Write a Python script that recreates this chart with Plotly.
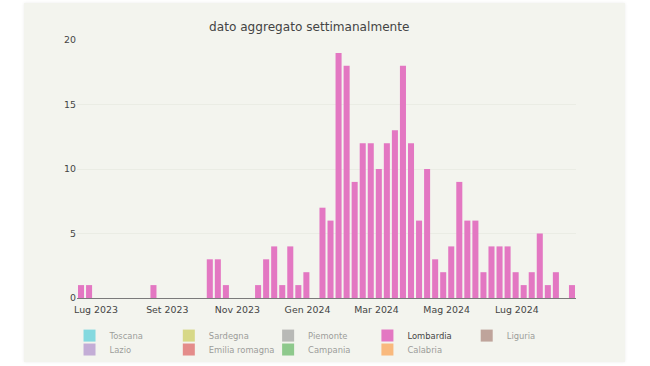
import pandas as pd
import plotly.graph_objects as go

# ---- data ----
start_week = "2023-06-18"
lombardia_counts = [1, 1, 0, 0, 0, 0, 0, 0, 0, 1,
                    0, 0, 0, 0, 0, 0, 3, 3, 1, 0,
                    0, 0, 1, 3, 4, 1, 4, 1, 2, 0,
                    7, 6, 19, 18, 9, 12, 12, 10, 12, 13,
                    18, 12, 6, 10, 3, 2, 4, 9, 6, 6,
                    2, 4, 4, 4, 2, 1, 2, 5, 1, 2,
                    0, 1]
weeks = pd.date_range(start_week, periods=len(lombardia_counts), freq="7D")

regions_row1 = ["Toscana", "Sardegna", "Piemonte", "Lombardia", "Liguria"]
colors_row1 = ["#17becf", "#bcbd22", "#7f7f7f", "#e377c2", "#8c564b"]
regions_row2 = ["Lazio", "Emilia romagna", "Campania", "Calabria"]
colors_row2 = ["#9467bd", "#d62728", "#2ca02c", "#ff7f0e"]

tick_dates = ["2023-07-01", "2023-09-01", "2023-11-01", "2024-01-01",
              "2024-03-01", "2024-05-01", "2024-07-01"]
tick_labels = ["Lug 2023", "Set 2023", "Nov 2023", "Gen 2024",
               "Mar 2024", "Mag 2024", "Lug 2024"]
y_ticks = [0, 5, 10, 15, 20]

title_text = "dato aggregato settimanalmente"

BG = "#f3f4ee"
FONT = "DejaVu Sans"

fig = go.Figure()
for legend_id, names, colors in (("legend", regions_row1, colors_row1),
                                 ("legend2", regions_row2, colors_row2)):
    for name, color in zip(names, colors):
        if name == "Lombardia":
            fig.add_trace(go.Bar(x=weeks, y=lombardia_counts, name=name,
                                 legend=legend_id,
                                 marker=dict(color=color, line=dict(width=0))))
        else:
            # hidden series (legend only); their values are not shown in the chart
            fig.add_trace(go.Bar(x=weeks, y=[None] * len(weeks), name=name,
                                 legend=legend_id, visible="legendonly",
                                 marker=dict(color=color, line=dict(width=0))))

legend_common = dict(orientation="h", xanchor="left", yanchor="top",
                     entrywidth=54.3, entrywidthmode="pixels",
                     font=dict(family=FONT, size=8.4, color="#444"),
                     bgcolor="rgba(0,0,0,0)", traceorder="normal")

fig.update_layout(
    width=601, height=359,
    margin=dict(l=53, r=49, t=37, b=64, autoexpand=False),
    paper_bgcolor=BG, plot_bgcolor=BG,
    font=dict(family=FONT, size=9.4, color="#444"),
    title=dict(text=title_text, x=0.4655, xanchor="center", xref="paper",
               y=1 - 24 / 359, yanchor="middle", yref="container",
               font=dict(family=FONT, size=12.1, color="#444")),
    bargap=0.25,
    showlegend=True,
    legend=dict(x=-0.015, y=-0.0895, **legend_common),
    legend2=dict(x=-0.015, y=-0.1435, **legend_common),
    xaxis=dict(type="date", tickvals=tick_dates, ticktext=tick_labels,
               showgrid=False, showline=True, linecolor="#7a7a7a", linewidth=1,
               ticks="", ticklabelstandoff=3,
               tickfont=dict(size=9.4, color="#444"), zeroline=False),
    yaxis=dict(range=[0, 20], tickvals=y_ticks, showgrid=True,
               gridcolor="#eaece4", gridwidth=1, zeroline=False, ticks="",
               tickfont=dict(size=9.4, color="#444")),
)

fig.write_html(
    "out.html",
    post_script=(
        "document.body.style.margin='0';"
        "var d=document.getElementById('{plot_id}');"
        "d.style.position='absolute';d.style.left='24px';d.style.top='3px';"
        "d.style.boxShadow='0 0 3px rgba(0,0,0,0.08)';"
    ),
)
